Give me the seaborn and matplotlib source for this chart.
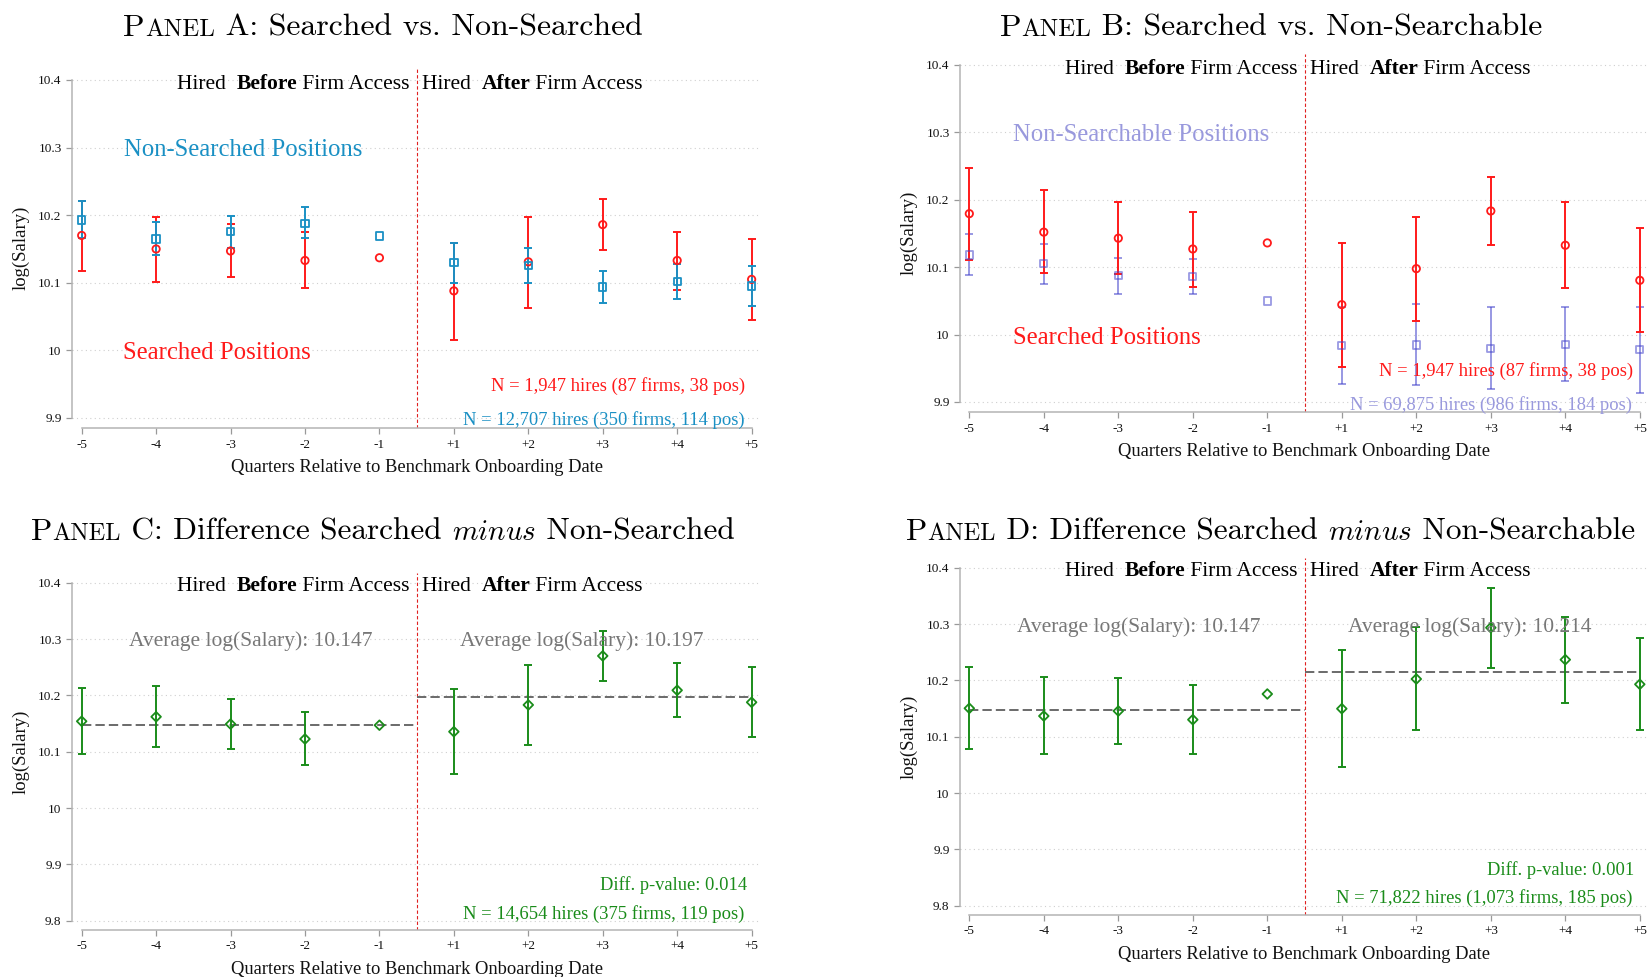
import numpy as np
import pandas as pd
import seaborn as sns
import matplotlib.pyplot as plt
from matplotlib.offsetbox import TextArea, HPacker, AnnotationBbox

sns.set_theme(style="white")
plt.rcParams['font.family'] = ['Liberation Serif', 'DejaVu Serif']
plt.rcParams['mathtext.fontset'] = 'cm'

nan = np.nan
quarters = ["-5", "-4", "-3", "-2", "-1", "+1", "+2", "+3", "+4", "+5"]

# Panel A: searched vs non-searched
a_srch = [10.170, 10.150, 10.147, 10.133, 10.137, 10.088, 10.131, 10.186, 10.133, 10.105]
a_srch_lo = [10.118, 10.101, 10.108, 10.092, nan, 10.016, 10.062, 10.1485, 10.090, 10.0455]
a_srch_hi = [10.2215, 10.198, 10.1865, 10.175, nan, 10.159, 10.198, 10.2235, 10.1756, 10.165]
a_non = [10.193, 10.165, 10.1756, 10.188, 10.169, 10.130, 10.126, 10.094, 10.1016, 10.095]
a_non_lo = [10.166, 10.141, 10.152, 10.166, nan, 10.100, 10.100, 10.070, 10.0766, 10.066]
a_non_hi = [10.2215, 10.190, 10.199, 10.2117, nan, 10.159, 10.151, 10.118, 10.128, 10.1244]

# Panel B: searched vs non-searchable
b_srch = [10.1794, 10.152, 10.143, 10.127, 10.136, 10.0444, 10.0978, 10.1834, 10.1325, 10.0805]
b_srch_lo = [10.111, 10.091, 10.090, 10.0706, nan, 9.952, 10.0206, 10.1325, 10.069, 10.0034]
b_srch_hi = [10.2477, 10.214, 10.196, 10.1823, nan, 10.1364, 10.175, 10.234, 10.196, 10.1577]
b_non = [10.118, 10.105, 10.0874, 10.0865, 10.050, 9.984, 9.9846, 9.9797, 9.9856, 9.9776]
b_non_lo = [10.089, 10.0756, 10.060, 10.060, nan, 9.927, 9.925, 9.919, 9.931, 9.914]
b_non_hi = [10.149, 10.135, 10.113, 10.1126, nan, 10.0414, 10.0454, 10.0414, 10.0404, 10.0414]

# Panel C / D: differences
c_diff = [10.154, 10.162, 10.149, 10.1225, 10.147, 10.1355, 10.183, 10.270, 10.209, 10.1877]
c_lo = [10.096, 10.1083, 10.1042, 10.076, nan, 10.060, 10.1113, 10.226, 10.1616, 10.1256]
c_hi = [10.2125, 10.2166, 10.194, 10.170, nan, 10.2113, 10.2544, 10.315, 10.2575, 10.250]
c_means = [10.147, 10.197]

d_diff = [10.1504, 10.1367, 10.1456, 10.1302, 10.1758, 10.1497, 10.2024, 10.2935, 10.2367, 10.193]
d_lo = [10.0776, 10.0693, 10.0876, 10.0693, nan, 10.0462, 10.1119, 10.222, 10.160, 10.1113]
d_hi = [10.2243, 10.2054, 10.2047, 10.1923, nan, 10.2544, 10.294, 10.3645, 10.3125, 10.2747]
d_means = [10.147, 10.214]

RED = "#ff1a1a"
BLUE = "#1a90c4"
LAV = "#4444cc"
GREEN = "#1a8c1a"
GRAY = "#777777"

W, H = 1648, 977
fig = plt.figure(figsize=(W / 100, H / 100), dpi=100)


def add_ax(left, right, top, bottom):
    return fig.add_axes([left / W, 1 - bottom / H, (right - left) / W, (bottom - top) / H])


def packed(ax, pieces, xy, align, coords="data"):
    boxes = [TextArea(s, textprops=p) for s, p in pieces]
    pack = HPacker(children=boxes, align="baseline", pad=0, sep=0)
    ab = AnnotationBbox(pack, xy, xycoords=coords, box_alignment=align,
                        frameon=False, pad=0, annotation_clip=False)
    ax.add_artist(ab)


def style_ax(ax, ylo, xlim):
    ax.set_xlim(*xlim)
    ax.set_ylim(ylo, 10.417)
    ax.set_xticks(range(10), quarters)
    yt = np.round(np.arange(9.8 if ylo < 9.8 else 9.9, 10.41, 0.1), 1)
    ax.set_yticks(yt, [f"{v:g}" for v in yt])
    for s in ["top", "right"]:
        ax.spines[s].set_visible(False)
    for s in ["left", "bottom"]:
        ax.spines[s].set_color("#b4b4b4")
        ax.spines[s].set_linewidth(1.1)
    ax.spines["left"].set_bounds(yt[0], 10.4)
    ax.spines["bottom"].set_bounds(0, 9)
    ax.tick_params(bottom=True, left=True, direction="out", length=4.5, width=0.9,
                   color="#999999", labelsize=9.5, pad=3, labelcolor="#111111")
    ax.yaxis.grid(True, color="#cfcfcf", linestyle=(0, (1, 3)), lw=0.8)
    ax.set_axisbelow(True)
    ax.axvline(4.5, color="#e02020", lw=0.8, ls=(0, (3, 2)))
    ax.set_ylabel("log(Salary)", fontsize=13.5, color="#111111")
    ax.set_xlabel("Quarters Relative to Benchmark Onboarding Date", fontsize=13.3, color="#111111")
    bold = dict(size=15.5, weight="bold", color="black")
    reg = dict(size=15.5, color="black")
    packed(ax, [("Hired  ", reg), ("Before", bold), (" Firm Access", reg)], (4.41, 10.394), (1, 0.5))
    packed(ax, [("Hired  ", reg), ("After", bold), (" Firm Access", reg)], (4.57, 10.394), (0, 0.5))


def series(ax, y, lo, hi, color, marker, alpha=1.0, s=28):
    x = np.arange(10)
    y = np.array(y)
    err = np.vstack([y - np.array(lo), np.array(hi) - y])
    ax.errorbar(x, y, yerr=err, fmt="none", ecolor=color, elinewidth=1.4,
                capsize=3.2, capthick=1.4, alpha=alpha)
    sns.scatterplot(x=x, y=y, ax=ax, marker=marker, s=s, color=color,
                    facecolor="none", edgecolor=color, linewidth=1.3, alpha=alpha, zorder=3)


def title(pieces, cx, cy):
    packed(fig.axes[0], pieces, (cx / W, 1 - cy / H), (0.5, 0.5), coords="figure fraction")


TS = 22.9
tbig = dict(size=TS, family="cmr10", color="black")
tsc = dict(size=TS * 0.78, family="cmr10", color="black")
tbig2 = dict(size=TS * 0.985, family="cmr10", color="black")
tsc2 = dict(size=TS * 0.985 * 0.78, family="cmr10", color="black")

# ---- Panel A
axA = add_ax(72, 761.3, 68.5, 428.1)
style_ax(axA, 9.885, (-0.13, 9.13))
series(axA, a_srch, a_srch_lo, a_srch_hi, RED, "o")
series(axA, a_non, a_non_lo, a_non_hi, BLUE, "s")
axA.text(0.57, 10.297, "Non-Searched Positions", color=BLUE, fontsize=17.8, va="center")
axA.text(0.56, 9.996, "Searched Positions", color=RED, fontsize=17.8, va="center")
axA.text(8.915, 9.947, "N = 1,947 hires (87 firms, 38 pos)", color=RED, fontsize=13.4, ha="right", va="center")
axA.text(8.9, 9.897, "N = 12,707 hires (350 firms, 114 pos)", color=BLUE, fontsize=13.4, ha="right", va="center")

# ---- Panel B
axB = add_ax(960, 1648, 53.5, 412.1)
style_ax(axB, 9.885, (-0.125, 9.11))
series(axB, b_non, b_non_lo, b_non_hi, LAV, "s", alpha=0.55)
series(axB, b_srch, b_srch_lo, b_srch_hi, RED, "o")
axB.text(0.59, 10.296, "Non-Searchable Positions", color="#9999dd", fontsize=17.8, va="center")
axB.text(0.58, 9.995, "Searched Positions", color=RED, fontsize=17.8, va="center")
axB.text(8.905, 9.946, "N = 1,947 hires (87 firms, 38 pos)", color=RED, fontsize=13.4, ha="right", va="center")
axB.text(8.9, 9.8955, "N = 69,875 hires (986 firms, 184 pos)", color="#9999dd", fontsize=13.4, ha="right", va="center")

# ---- Panel C
axC = add_ax(72, 761.3, 573.1, 930)
style_ax(axC, 9.7835, (-0.13, 9.13))
for (x0, x1), m in zip([(0, 4.5), (4.5, 9)], c_means):
    axC.hlines(m, x0, x1, color="#6a6a6a", lw=1.4, ls=(0, (4.8, 2.1)), zorder=2)
series(axC, c_diff, c_lo, c_hi, GREEN, "D", s=24)
axC.text(2.27, 10.2965, "Average log(Salary): 10.147", color=GRAY, fontsize=15.5, ha="center", va="center")
axC.text(6.72, 10.2965, "Average log(Salary): 10.197", color=GRAY, fontsize=15.5, ha="center", va="center")
axC.text(8.94, 9.8634, "Diff. p-value: 0.014", color=GREEN, fontsize=13.3, ha="right", va="center")
axC.text(8.9, 9.812, "N = 14,654 hires (375 firms, 119 pos)", color=GREEN, fontsize=13.4, ha="right", va="center")

# ---- Panel D
axD = add_ax(960, 1648, 558.1, 915)
style_ax(axD, 9.7835, (-0.125, 9.11))
for (x0, x1), m in zip([(0, 4.5), (4.5, 9)], d_means):
    axD.hlines(m, x0, x1, color="#6a6a6a", lw=1.4, ls=(0, (4.8, 2.1)), zorder=2)
series(axD, d_diff, d_lo, d_hi, GREEN, "D", s=24)
axD.text(2.27, 10.295, "Average log(Salary): 10.147", color=GRAY, fontsize=15.5, ha="center", va="center")
axD.text(6.72, 10.295, "Average log(Salary): 10.214", color=GRAY, fontsize=15.5, ha="center", va="center")
axD.text(8.92, 9.8634, "Diff. p-value: 0.001", color=GREEN, fontsize=13.3, ha="right", va="center")
axD.text(8.9, 9.813, "N = 71,822 hires (1,073 firms, 185 pos)", color=GREEN, fontsize=13.4, ha="right", va="center")

for ax in [axA, axB, axC, axD]:
    ax.yaxis.set_label_coords(-0.061, 0.5)
    ax.xaxis.set_label_coords(0.5, -0.087)

mi = dict(size=21, color="black")
title([("P", tbig), ("ANEL", tsc), (" A: Searched vs. Non-Searched", tbig)], 383, 28)
title([("P", tbig), ("ANEL", tsc), (" B: Searched vs. Non-Searchable", tbig)], 1271, 28)
title([("P", tbig2), ("ANEL", tsc2), (" C: Difference Searched ", tbig2), (r"$minus$", mi),
       (" Non-Searched", tbig2)], 383, 532)
title([("P", tbig2), ("ANEL", tsc2), (" D: Difference Searched ", tbig2), (r"$minus$", mi),
       (" Non-Searchable", tbig2)], 1271, 532)

fig.savefig("out.png", dpi=100)
